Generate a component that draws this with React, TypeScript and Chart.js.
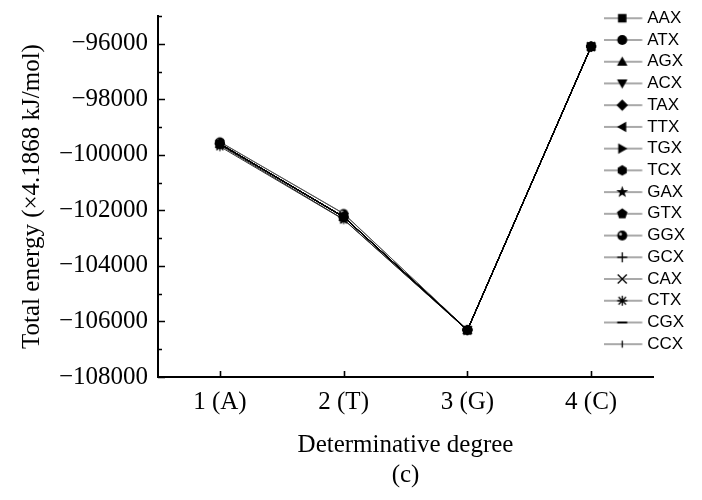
import React, { useEffect, useRef } from 'react';
import { Chart, registerables } from 'chart.js';

Chart.register(...registerables);

const categories = ['1 (A)', '2 (T)', '3 (G)', '4 (C)'];
const yTickValues = [-108000, -106000, -104000, -102000, -100000, -98000, -96000];
const yMinorTickValues = [-107000, -105000, -103000, -101000, -99000, -97000, -95000];

const seriesNames = ['AAX', 'ATX', 'AGX', 'ACX', 'TAX', 'TTX', 'TGX', 'TCX', 'GAX', 'GTX', 'GGX', 'GCX', 'CAX', 'CTX', 'CGX', 'CCX'];
const markerTypes = ['square', 'circle', 'triUp', 'triDown', 'diamond', 'triLeft', 'triRight', 'hexagon', 'star', 'pentagon', 'ggx', 'plus', 'cross', 'asterisk', 'dash', 'vbar'];

const AAX = [-99600, -102230, -106310, -96100];
const ATX = [-99600, -102230, -106310, -96100];
const AGX = [-99610, -102240, -106310, -96100];
const ACX = [-99600, -102230, -106310, -96100];
const TAX = [-99610, -102240, -106310, -96110];
const TTX = [-99600, -102230, -106310, -96100];
const TGX = [-99610, -102240, -106320, -96110];
const TCX = [-99600, -102230, -106310, -96100];
const GAX = [-99650, -102320, -106320, -96110];
const GTX = [-99610, -102240, -106310, -96100];
const GGX = [-99530, -102110, -106300, -96090];
const GCX = [-99600, -102230, -106310, -96100];
const CAX = [-99610, -102240, -106310, -96100];
const CTX = [-99700, -102330, -106320, -96110];
const CGX = [-99540, -102120, -106300, -96090];
const CCX = [-99600, -102230, -106310, -96100];

const seriesValues = [AAX, ATX, AGX, ACX, TAX, TTX, TGX, TCX, GAX, GTX, GGX, GCX, CAX, CTX, CGX, CCX];
const seriesColors = ['#000', '#000', '#000', '#000', '#000', '#000', '#000', '#000', '#222', '#000', '#555', '#000', '#000', '#333', '#666', '#000'];

const SERIF = '"Times New Roman", "Liberation Serif", serif';
const SANS = 'Arial, "Liberation Sans", sans-serif';

function poly(ctx: CanvasRenderingContext2D, cx: number, cy: number, s: number, pts: number[][]) {
  ctx.beginPath();
  pts.forEach(([px, py], i) => {
    if (i === 0) ctx.moveTo(cx + px * s, cy + py * s);
    else ctx.lineTo(cx + px * s, cy + py * s);
  });
  ctx.closePath();
  ctx.fill();
}

function regular(n: number, r: number, start: number) {
  const pts: number[][] = [];
  for (let k = 0; k < n; k++) {
    const a = start + (k * 2 * Math.PI) / n;
    pts.push([Math.cos(a) * r, Math.sin(a) * r]);
  }
  return pts;
}

function drawMarker(ctx: CanvasRenderingContext2D, type: string, cx: number, cy: number, s: number) {
  ctx.fillStyle = '#000';
  ctx.strokeStyle = '#000';
  ctx.lineWidth = 1.3;
  switch (type) {
    case 'square':
      ctx.fillRect(cx - s * 0.85, cy - s * 0.85, s * 1.7, s * 1.7);
      break;
    case 'circle':
      ctx.beginPath(); ctx.arc(cx, cy, s, 0, Math.PI * 2); ctx.fill();
      break;
    case 'triUp':
      poly(ctx, cx, cy, s, [[0, -1.05], [1.05, 0.8], [-1.05, 0.8]]);
      break;
    case 'triDown':
      poly(ctx, cx, cy, s, [[0, 1.05], [1.05, -0.8], [-1.05, -0.8]]);
      break;
    case 'diamond':
      poly(ctx, cx, cy, s, [[0, -1.15], [1.15, 0], [0, 1.15], [-1.15, 0]]);
      break;
    case 'triLeft':
      poly(ctx, cx, cy, s, [[-1.05, 0], [0.8, -1.05], [0.8, 1.05]]);
      break;
    case 'triRight':
      poly(ctx, cx, cy, s, [[1.05, 0], [-0.8, -1.05], [-0.8, 1.05]]);
      break;
    case 'hexagon':
      poly(ctx, cx, cy, s, regular(6, 1.05, -Math.PI / 2));
      break;
    case 'star': {
      const pts: number[][] = [];
      for (let k = 0; k < 10; k++) {
        const a = -Math.PI / 2 + (k * Math.PI) / 5;
        const r = k % 2 === 0 ? 1.25 : 0.5;
        pts.push([Math.cos(a) * r, Math.sin(a) * r]);
      }
      poly(ctx, cx, cy, s, pts);
      break;
    }
    case 'pentagon':
      poly(ctx, cx, cy, s, regular(5, 1.1, -Math.PI / 2));
      break;
    case 'ggx':
      ctx.beginPath(); ctx.arc(cx, cy, s, 0, Math.PI * 2); ctx.fill();
      ctx.fillStyle = '#ccc';
      ctx.beginPath(); ctx.arc(cx - s * 0.35, cy - s * 0.3, s * 0.3, 0, Math.PI * 2); ctx.fill();
      break;
    case 'plus':
      ctx.beginPath();
      ctx.moveTo(cx - s, cy); ctx.lineTo(cx + s, cy);
      ctx.moveTo(cx, cy - s); ctx.lineTo(cx, cy + s);
      ctx.stroke();
      break;
    case 'cross':
      ctx.beginPath();
      ctx.moveTo(cx - s * 0.9, cy - s * 0.9); ctx.lineTo(cx + s * 0.9, cy + s * 0.9);
      ctx.moveTo(cx - s * 0.9, cy + s * 0.9); ctx.lineTo(cx + s * 0.9, cy - s * 0.9);
      ctx.stroke();
      break;
    case 'asterisk':
      ctx.beginPath();
      ctx.moveTo(cx - s, cy); ctx.lineTo(cx + s, cy);
      ctx.moveTo(cx, cy - s); ctx.lineTo(cx, cy + s);
      ctx.moveTo(cx - s * 0.75, cy - s * 0.75); ctx.lineTo(cx + s * 0.75, cy + s * 0.75);
      ctx.moveTo(cx - s * 0.75, cy + s * 0.75); ctx.lineTo(cx + s * 0.75, cy - s * 0.75);
      ctx.stroke();
      break;
    case 'dash':
      ctx.lineWidth = 2;
      ctx.beginPath(); ctx.moveTo(cx - s, cy); ctx.lineTo(cx + s, cy); ctx.stroke();
      break;
    case 'vbar':
      ctx.beginPath(); ctx.moveTo(cx, cy - s * 0.7); ctx.lineTo(cx, cy + s * 0.7); ctx.stroke();
      break;
  }
}

function makePointImage(type: string): HTMLCanvasElement {
  const c = document.createElement('canvas');
  c.width = 16; c.height = 16;
  const ctx = c.getContext('2d')!;
  drawMarker(ctx, type, 8, 8, 4.6);
  return c;
}

function makeLegendImage(type: string): HTMLCanvasElement {
  const c = document.createElement('canvas');
  c.width = 44; c.height = 16;
  const ctx = c.getContext('2d')!;
  ctx.strokeStyle = '#555';
  ctx.lineWidth = 1.2;
  ctx.beginPath(); ctx.moveTo(1.5, 8); ctx.lineTo(40.5, 8); ctx.stroke();
  drawMarker(ctx, type, 20.5, 8, 5);
  return c;
}

const inwardTicks = {
  id: 'inwardTicks',
  afterDraw(chart: any) {
    const { ctx, chartArea, scales } = chart;
    const x = scales.x, y = scales.y;
    ctx.save();
    ctx.strokeStyle = '#000';
    ctx.lineWidth = 1.6;
    ctx.beginPath();
    yTickValues.forEach((v) => {
      const py = Math.round(y.getPixelForValue(v)) + 0.5;
      ctx.moveTo(chartArea.left, py); ctx.lineTo(chartArea.left + 7, py);
    });
    yMinorTickValues.forEach((v) => {
      const py = Math.round(y.getPixelForValue(v)) + 0.5;
      ctx.moveTo(chartArea.left, py); ctx.lineTo(chartArea.left + 4, py);
    });
    categories.forEach((_, i) => {
      const px = Math.round(x.getPixelForValue(i)) + 0.5;
      ctx.moveTo(px, chartArea.bottom); ctx.lineTo(px, chartArea.bottom - 6);
    });
    ctx.stroke();
    ctx.restore();
  },
};

const legendPlace = {
  id: 'legendPlace',
  afterLayout(chart: any) {
    const lg = chart.legend;
    if (!lg) return;
    lg.left = 604; lg.top = 5;
    lg.width = 98; lg.height = 480;
    lg.right = lg.left + lg.width; lg.bottom = lg.top + lg.height;
  },
};

export default function App() {
  const ref = useRef<HTMLCanvasElement | null>(null);

  useEffect(() => {
    if (!ref.current) return;
    const pointImgs = markerTypes.map(makePointImage);
    const legendImgs = markerTypes.map(makeLegendImage);

    const chart = new Chart(ref.current, {
      type: 'line',
      data: {
        labels: categories,
        datasets: seriesNames.map((name, i) => ({
          label: name,
          data: seriesValues[i],
          borderColor: seriesColors[i],
          backgroundColor: '#000',
          borderWidth: 1,
          pointStyle: pointImgs[i] as any,
          pointRadius: 4,
          tension: 0,
        })),
      },
      options: {
        responsive: false,
        animation: false,
        layout: { padding: { top: 16, right: 48, bottom: 0, left: 0 } },
        scales: {
          x: {
            type: 'category',
            offset: true,
            grid: { display: false, drawTicks: false },
            border: { display: true, color: '#000', width: 2 },
            ticks: { color: '#000', font: { family: SERIF, size: 25 }, padding: 10, maxRotation: 0, autoSkip: false },
            title: {
              display: true, text: 'Determinative degree', color: '#000',
              font: { family: SERIF, size: 25, lineHeight: 1.2 }, padding: { top: 0, bottom: 0 },
            },
            afterFit: (s: any) => { s.height = 83; s.paddingLeft = 0; s.paddingRight = 0; },
          },
          y: {
            type: 'linear',
            min: -108000,
            max: -95000,
            afterBuildTicks: (s: any) => { s.ticks = yTickValues.map((v) => ({ value: v })); },
            grid: { display: false, drawTicks: false },
            border: { display: true, color: '#000', width: 2 },
            ticks: {
              color: '#000', font: { family: SERIF, size: 25 }, padding: 10,
              callback: (v: any) => '\u2212' + Math.abs(Number(v)),
            },
            title: {
              display: true, text: 'Total energy (×4.1868 kJ/mol)', color: '#000',
              font: { family: SERIF, size: 25, lineHeight: 1.2 }, padding: { top: 17, bottom: 0 },
            },
            afterFit: (s: any) => { s.width = 158; s.paddingTop = 0; s.paddingBottom = 0; },
          },
        },
        plugins: {
          title: {
            display: true, text: '(c)', position: 'bottom', fullSize: false, color: '#000',
            font: { family: SERIF, size: 25, weight: 'normal', lineHeight: 1.2 },
            padding: { top: 0, bottom: 10 },
          },
          legend: {
            display: true, position: 'right', align: 'start', maxWidth: 1,
            labels: {
              usePointStyle: true, pointStyleWidth: 30, padding: 4.73, color: '#000',
              font: { family: SANS, size: 17 },
              generateLabels: (ch: any) => ch.data.datasets.map((ds: any, i: number) => ({
                text: ds.label, pointStyle: legendImgs[i], fillStyle: '#000', strokeStyle: '#000',
                lineWidth: 0, hidden: false, datasetIndex: i, fontColor: '#000',
              })),
            },
          },
          tooltip: { enabled: false },
        },
      },
      plugins: [inwardTicks, legendPlace],
    } as any);
    return () => chart.destroy();
  }, []);

  return (
    <div style={{ position: 'absolute', left: 0, top: 0, width: 702, height: 500, background: '#fff' }}>
      <canvas ref={ref} width={702} height={500} />
    </div>
  );
}
